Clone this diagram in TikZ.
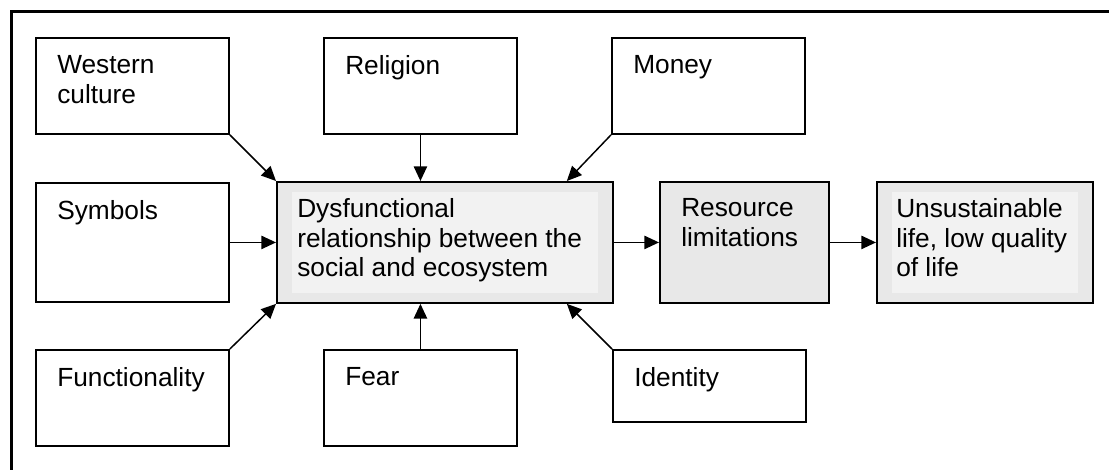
\documentclass[tikz,border=0pt]{standalone}
\usepackage{fontspec}
\setmainfont{Liberation Sans}
\usetikzlibrary{arrows.meta,calc}
\definecolor{boxgray}{HTML}{E8E8E8}
\definecolor{innergray}{HTML}{F2F2F2}

\begin{document}
\begin{tikzpicture}[
  x=0.75pt, y=-0.75pt,
  >={Triangle[length=11pt,width=10pt]},
  cause/.style={draw, line width=1.4pt, fill=white, inner sep=0pt, anchor=north west, minimum width=144.75pt, minimum height=72pt},
  effect/.style={draw, line width=1.4pt, fill=boxgray, inner sep=0pt, anchor=north west, minimum height=90.75pt},
  txt/.style={anchor=north west, inner sep=0pt, align=left, font=\fontsize{19.7}{22.3}\selectfont},
  arr/.style={->, line width=1.1pt},
]
\useasboundingbox (0,0) rectangle (1109,469);
\clip (0,0) rectangle (1109,469);
% outer frame, cut off at right and bottom
\draw[line width=2.4pt] (1200,11.5) -- (11.5,11.5) -- (11.5,560);

% causes
\node[cause] (wc) at (35,37) {};
\node[cause] (rel) at (323,37) {};
\node[cause] (mon) at (611,37) {};
\node[cause, minimum height=89.25pt] (sym) at (35,182) {};
\node[cause] (fun) at (35,349) {};
\node[cause] (fear) at (323,349) {};
\node[cause, minimum height=54pt] (idn) at (612,349) {};

% chain
\node[effect, minimum width=252pt] (dys) at (276,181) {};
\node[effect, minimum width=126.75pt] (res) at (659,181) {};
\node[effect, minimum width=162pt] (uns) at (876,181) {};
\fill[innergray] ([shift={(16,11)}]dys.north west) rectangle ([shift={(-16,-11)}]dys.south east);
\fill[innergray] ([shift={(16,11)}]uns.north west) rectangle ([shift={(-16,-11)}]uns.south east);

\node[txt] (wc-t) at ([shift={(22,18)}]wc.north west) {Western\\culture};
\node[txt] (rel-t) at ([shift={(22,18)}]rel.north west) {Religion};
\node[txt] (mon-t) at ([shift={(22,18)}]mon.north west) {Money};
\node[txt] (sym-t) at ([shift={(22,18)}]sym.north west) {Symbols};
\node[txt] (fun-t) at ([shift={(22,18)}]fun.north west) {Functionality};
\node[txt] (fear-t) at ([shift={(22,18)}]fear.north west) {Fear};
\node[txt] (idn-t) at ([shift={(22,18)}]idn.north west) {Identity};
\node[txt] (dys-t) at ([shift={(21,17)}]dys.north west) {Dysfunctional\\relationship between the\\social and ecosystem};
\node[txt] (res-t) at ([shift={(22,17)}]res.north west) {Resource\\limitations};
\node[txt] (uns-t) at ([shift={(20,17)}]uns.north west) {Unsustainable\\life, low quality\\of life};

\draw[arr] (wc.south east) -- (dys.north west);
\draw[arr] (rel.south) -- (rel.south |- dys.north);
\draw[arr] (mon.south west) -- ([shift={(-47,0)}]dys.north east);
\draw[arr] (sym.east) -- (sym.east -| dys.west);
\draw[arr] (fun.north east) -- (dys.south west);
\draw[arr] (fear.north) -- (fear.north |- dys.south);
\draw[arr] (idn.north west) -- ([shift={(-47,0)}]dys.south east);
\draw[arr] (dys.east) -- (res.west);
\draw[arr] (res.east) -- (uns.west);

\end{tikzpicture}
\end{document}
